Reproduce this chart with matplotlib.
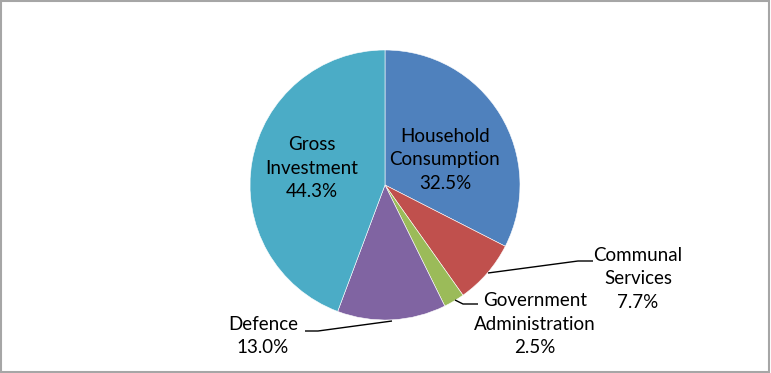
import matplotlib
matplotlib.use('Agg')
import matplotlib.pyplot as plt
from matplotlib.patches import Rectangle

# Spending shares (%), clockwise from 12 o'clock
categories = ['Household\nConsumption', 'Communal\nServices', 'Government\nAdministration',
              'Defence', 'Gross\nInvestment']
shares = [32.5, 7.7, 2.5, 13.0, 44.3]
colors = ['#4F81BD', '#C0504D', '#9BBB59', '#8064A2', '#4BACC6']

W, H = 771, 373
fig = plt.figure(figsize=(W / 100, H / 100), dpi=100)
ax = fig.add_axes([0, 0, 1, 1])

cx, cy, r = 385, H - 185, 135
ax.pie(shares, colors=colors, startangle=90, counterclock=False,
       center=(cx, cy), radius=r, frame=True,
       wedgeprops={'edgecolor': 'white', 'linewidth': 0.4})
ax.set_xlim(0, W)
ax.set_ylim(0, H)
ax.set_aspect('equal')
ax.axis('off')

font = ['Lato', 'DejaVu Sans']
labels = [f'{c}\n{s:.1f}%' for c, s in zip(categories, shares)]
# label positions in pixel space (from top-left)
label_pos = [(445, 160), (638, 279), (535, 324), (263, 336), (312, 168)]
for lab, (x, y) in zip(labels, label_pos):
    ax.text(x, H - y, lab, ha='center', va='center', fontsize=13.5,
            family=font, linespacing=1.45, color='black')

# leader lines
leaders = [
    [(488, 273), (578, 261), (593, 261)],
    [(455, 300), (463, 304), (478, 304)],
    [(392, 321), (318, 331), (305, 331)],
]
for pts in leaders:
    xs = [p[0] for p in pts]
    ys = [H - p[1] for p in pts]
    ax.plot(xs, ys, color='black', lw=1.0, solid_capstyle='butt')

# outer border
fig.patches.append(Rectangle((0.001, 0.002), 0.997, 0.995, transform=fig.transFigure,
                             fill=False, edgecolor='#A6A6A6', lw=1.5))

fig.savefig('out.png', dpi=100)
